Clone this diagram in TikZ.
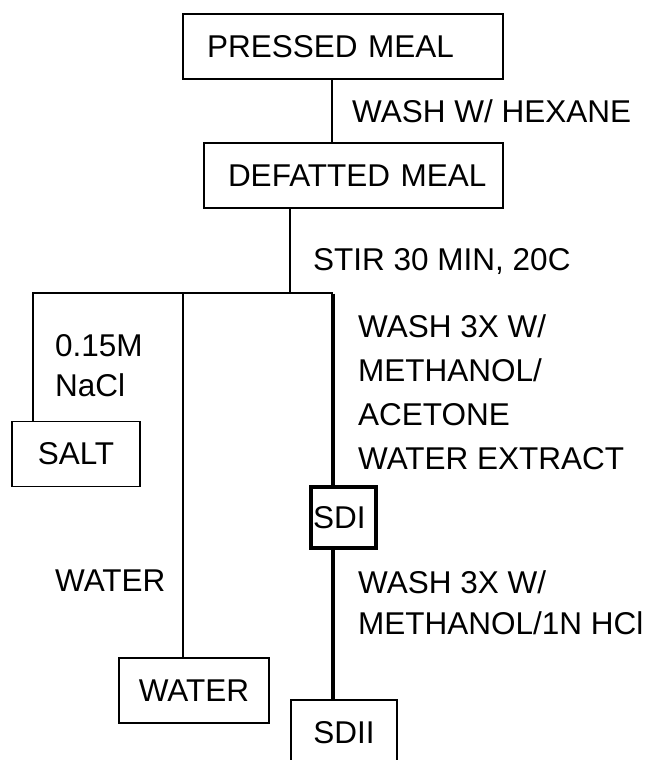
\documentclass[tikz,border=0pt]{standalone}
\usepackage{fontspec}
\setmainfont{Liberation Sans}
\usetikzlibrary{positioning}
\begin{document}
\begin{tikzpicture}[
      x=1pt, y=-1pt, font=\fontsize{31.5}{44}\selectfont,
      box/.style={draw, line width=1.3pt, minimum height=65pt, inner sep=0pt},
      leftbox/.style={box, align=left, inner xsep=0pt},
      thickbox/.style={box, line width=4pt, align=left, inner xsep=2pt},
      lbl/.style={anchor=west, align=left, inner sep=0pt},
      flow/.style={line width=1.3pt},
      main/.style={line width=4pt}]
    \useasboundingbox (0,0) rectangle (653,760);
    \node[leftbox, text width=320pt] (pressed) at (343,46.5) {\hspace*{24pt}PRESSED MEAL};
    \node[leftbox, text width=299pt] (defatted) at (353.5,175.5) {\hspace*{24pt}DEFATTED MEAL};
    \node[box, minimum width=128pt] (salt) at (76,454) {SALT};
    \node[box, minimum width=150pt] (water) at (194,690.5) {WATER};
    \node[thickbox, text width=61pt, minimum height=61pt] (sdi) at (343.5,517.5) {SDI};
    \node[box, minimum width=106pt] (sdii) at (344,732.5) {SDII};
    \coordinate (split) at (290,293);
    \coordinate (trunk) at (333,293);
    \draw[flow] ([xshift=-11pt]pressed.south) -- ([xshift=-11pt]pressed.south |- defatted.north);
    \draw[flow] ([xshift=-63.5pt]defatted.south) -- (split);
    \draw[flow] ([xshift=-43pt]salt.north) |- (trunk);
    \draw[flow] ([xshift=-11pt]water.north) -- ([xshift=-11pt]water.north |- trunk);
    \draw[main] ([yshift=-0.65pt]trunk) -- (trunk |- sdi.north);
    \draw[main] (trunk |- sdi.south) -- (trunk |- sdii.north);
    \node[lbl] (hexane) at (352,111) {WASH W/ HEXANE};
    \node[lbl] (stir) at (313,262) {STIR 30 MIN, 20C};
    \node[lbl, font=\fontsize{31.5}{40}\selectfont] (nacl) at (55,366) {0.15M\\NaCl};
    \node[lbl] (extract) at (358,392) {WASH 3X W/\\METHANOL/\\ACETONE\\WATER EXTRACT};
    \node[lbl, font=\fontsize{31.5}{41}\selectfont] (hcl) at (358,603) {WASH 3X W/\\METHANOL/1N HCl};
    \node[lbl] (waterlbl) at (55,581) {WATER};
  \end{tikzpicture}
\end{document}
